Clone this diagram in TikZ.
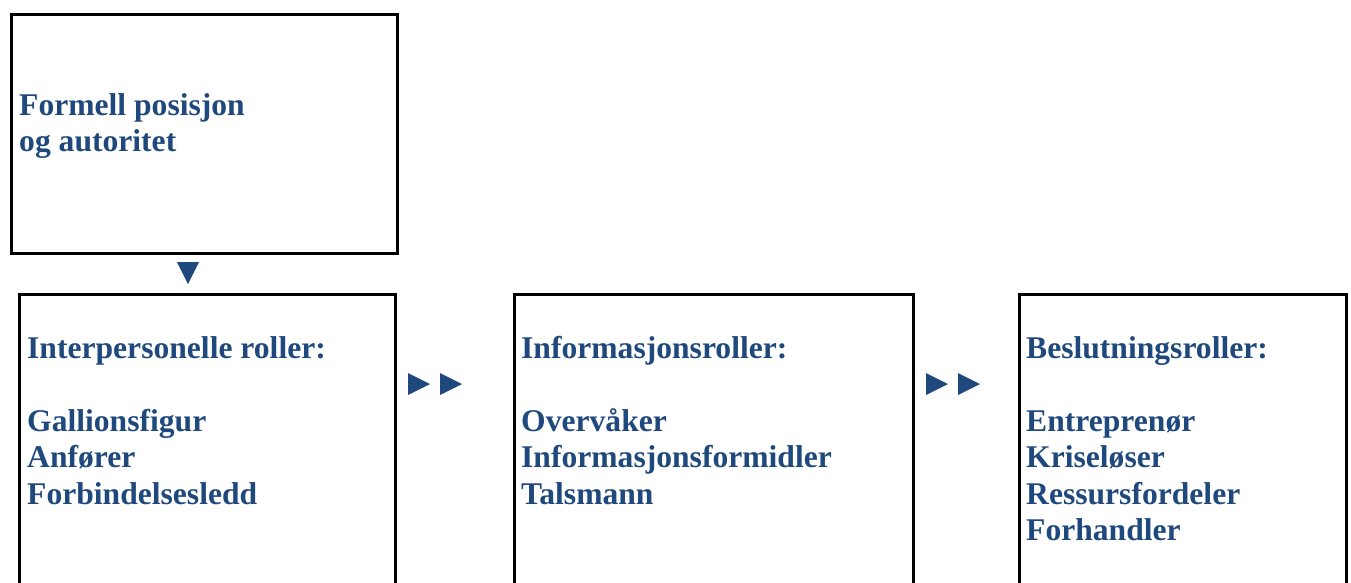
\documentclass[tikz,border=0pt]{standalone}
\usepackage{xcolor}
\usepackage{fontspec}
\setmainfont{Liberation Serif}
\usepackage{tikz}
\usetikzlibrary{positioning}
\definecolor{roleblue}{RGB}{31,73,125}

\begin{document}
\begin{tikzpicture}[x=1pt,y=-1pt,rolebox/.style={draw,line width=3pt,rectangle,anchor=north west,inner sep=0pt},roletext/.style={anchor=base west,inner sep=0pt,text=roleblue,font=\fontsize{31.6}{36}\selectfont\bfseries},pointer/.style={fill=roleblue}]
    \useasboundingbox (0,0) rectangle (1351,582);
    \node[rolebox,minimum width=386pt,minimum height=239pt](pos) at (9.5,12.5){};
    \node[rolebox,minimum width=376pt,minimum height=330pt](inter) at (17.5,292.5){};
    \node[rolebox,minimum width=399pt,minimum height=330pt](info) at (512.5,292.5){};
    \node[rolebox,minimum width=327pt,minimum height=330pt](besl) at (1017.5,292.5){};
    \node[roletext](pos1) at (19,115){Formell posisjon};
    \node[roletext](pos2) at (19,151){og autoritet};
    \foreach \t [count=\i] in {Interpersonelle roller:,,Gallionsfigur,Anfører,Forbindelsesledd}
      \node[roletext](inter\i) at (27,321.5+36.5*\i){\t};
    \foreach \t [count=\i] in {Informasjonsroller:,,Overvåker,Informasjonsformidler,Talsmann}
      \node[roletext](info\i) at (521,321.5+36.5*\i){\t};
    \foreach \t [count=\i] in {Beslutningsroller:,,Entreprenør,Kriseløser,Ressursfordeler,Forhandler}
      \node[roletext](besl\i) at (1026,321.5+36.5*\i){\t};
    % pointers between the boxes
    \fill[pointer] (177,262) -- (199,262) -- (188,284) -- cycle;
    \foreach \x in {408,440,926,958}
      \fill[pointer] (\x,373) -- (\x+22,384) -- (\x,395) -- cycle;
  \end{tikzpicture}
\end{document}
